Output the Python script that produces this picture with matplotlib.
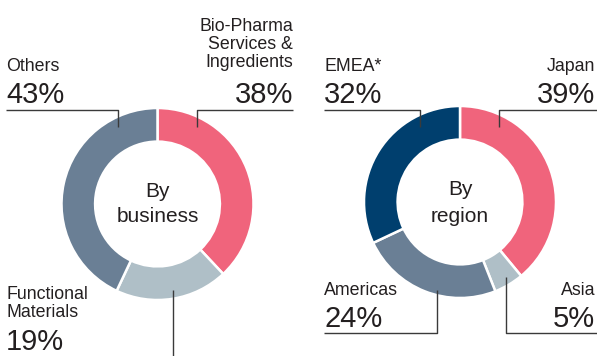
import matplotlib
matplotlib.use('Agg')
from matplotlib import pyplot as plt

# Sales breakdown (%), drawn clockwise from 12 o'clock
business_labels = ["Bio-Pharma\nServices &\nIngredients", "Functional\nMaterials", "Others"]
business_values = [38, 19, 43]
region_labels = ["Japan", "Asia", "Americas", "EMEA*"]
region_values = [39, 5, 24, 32]

PINK = "#f0647c"
LIGHT = "#afbfc7"
SLATE = "#6a7f95"
NAVY = "#003f6e"
TEXT = "#231f20"
LINE = "#3a3a3a"

business_colors = [PINK, LIGHT, SLATE]
region_colors = [PINK, LIGHT, SLATE, NAVY]

W, H = 597, 356
fig = plt.figure(figsize=(W / 100, H / 100), dpi=100)
plt.rcParams['font.family'] = ['Liberation Sans', 'DejaVu Sans']

R = 96  # outer radius in pixels
NAME_SIZE = 12.8
PCT_SIZE = 21


def donut(cx, cy, values, colors):
    half = 100
    ax = fig.add_axes([(cx - half) / W, (H - cy - half) / H, 2 * half / W, 2 * half / H])
    ax.pie(values, colors=colors, startangle=90, counterclock=False, radius=1,
           wedgeprops=dict(width=0.35, edgecolor="white", linewidth=1.8))
    lim = half / R
    ax.set_xlim(-lim, lim)
    ax.set_ylim(-lim, lim)
    ax.set_axis_off()


donut(157.5, 204, business_values, business_colors)
donut(460, 202, region_values, region_colors)

# overlay in pixel coordinates for labels and leader lines
ov = fig.add_axes([0, 0, 1, 1])
ov.set_xlim(0, W)
ov.set_ylim(H, 0)
ov.set_axis_off()


def leader(xs, ys):
    ov.plot(xs, ys, color=LINE, lw=1.0, solid_capstyle="butt")


def label(x, y, name, pct, ha, gap=32):
    ov.text(x, y, name, ha=ha, va="baseline", fontsize=NAME_SIZE, color=TEXT,
            linespacing=1.08, multialignment=ha)
    ov.text(x, y + gap, f"{pct}%", ha=ha, va="baseline", fontsize=PCT_SIZE, color=TEXT)


# By business
label(6, 71, business_labels[2], business_values[2], "left")
leader([6, 118, 118], [110, 110, 127])
ov.text(293, 67, business_labels[0], ha="right", va="baseline", fontsize=NAME_SIZE,
        color=TEXT, linespacing=1.08, multialignment="right")
ov.text(293, 103, f"{business_values[0]}%", ha="right", va="baseline", fontsize=PCT_SIZE, color=TEXT)
leader([197, 197, 293], [127, 110, 110])
label(6, 317, business_labels[1], business_values[1], "left", gap=33)
leader([173, 173], [290, 356])
ov.text(157.5, 197, "By", ha="center", va="baseline", fontsize=15, color=TEXT)
ov.text(157.5, 222, "business", ha="center", va="baseline", fontsize=15, color=TEXT)

# By region
label(324, 71, region_labels[3], region_values[3], "left")
leader([324, 420, 420], [110, 110, 127])
label(595, 71, region_labels[0], region_values[0], "right")
leader([499, 499, 597], [127, 110, 110])
label(324, 295, region_labels[2], region_values[2], "left")
leader([324, 437, 437], [333, 333, 290])
label(595, 295, region_labels[1], region_values[1], "right")
leader([506, 506, 597], [277, 333, 333])
ov.text(460, 195, "By", ha="center", va="baseline", fontsize=15, color=TEXT)
ov.text(460, 222, "region", ha="center", va="baseline", fontsize=15, color=TEXT)

fig.savefig("out.png", dpi=100)
